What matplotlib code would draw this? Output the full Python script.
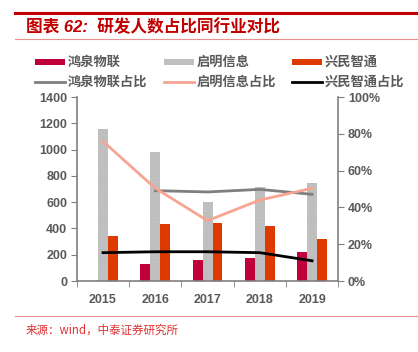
import matplotlib
matplotlib.use("Agg")
import matplotlib.pyplot as plt
import numpy as np
from matplotlib.patches import Rectangle
from matplotlib.lines import Line2D

plt.rcParams['font.family'] = ['Liberation Sans', 'Noto Sans CJK SC', 'DejaVu Sans']
plt.rcParams['hatch.linewidth'] = 0.4

years = ['2015', '2016', '2017', '2018', '2019']
hq_count = [np.nan, 127, 160, 173, 223]      # 鸿泉物联
qm_count = [1155, 985, 600, 715, 745]         # 启明信息
xm_count = [342, 436, 441, 418, 317]          # 兴民智通
hq_pct = [np.nan, 49.1, 48.4, 49.8, 47.1]     # 鸿泉物联占比
qm_pct = [75.9, 50.4, 32.8, 44.0, 50.4]       # 启明信息占比
xm_pct = [15.4, 15.9, 15.9, 15.4, 11.0]       # 兴民智通占比
series_labels = ['鸿泉物联', '启明信息', '兴民智通', '鸿泉物联占比', '启明信息占比', '兴民智通占比']

c_red = '#C0003A'
c_gray = '#C0C0C0'
c_orange = '#DE3A00'
c_gline = '#7F7F7F'
c_salmon = '#F7A592'
c_black = '#000000'
tick_col = '#595959'

W, H = 418, 352
fig = plt.figure(figsize=(W / 100, H / 100), dpi=100)
ax = fig.add_axes([0.184, 0.2017, 0.625, 0.5227])
ax2 = ax.twinx()

x = np.arange(len(years))
w = 0.19
ax.bar(x - w, hq_count, w, color=c_red, zorder=2)
ax.bar(x, qm_count, w, color=c_gray, edgecolor='#B8B8B8', hatch='.....', lw=0, zorder=2)
ax.bar(x + w, xm_count, w, color=c_orange, zorder=2)

ax2.plot(x, hq_pct, color=c_gline, lw=2)
ax2.plot(x, qm_pct, color=c_salmon, lw=2)
ax2.plot(x, xm_pct, color=c_black, lw=2)

ax.set_xlim(-0.5, 4.5)
ax.set_ylim(0, 1400)
ax2.set_ylim(0, 100)
ax.set_yticks(range(0, 1401, 200))
ax2.set_yticks(range(0, 101, 20))
ax2.set_yticklabels([f'{v}%' for v in range(0, 101, 20)])
ax.set_xticks(x)
ax.set_xticklabels(years)
ax.set_xticks(np.arange(-0.5, 4.6, 1), minor=True)
ax.tick_params(axis='x', which='major', length=0, pad=9)
ax.tick_params(axis='x', which='minor', length=4, color='#7F7F7F', direction='out')

for a in (ax, ax2):
    for s in a.spines.values():
        s.set_visible(False)
    a.tick_params(axis='y', length=4, color='#7F7F7F', direction='out', pad=3)
    for lab in a.get_yticklabels() + a.get_xticklabels():
        lab.set_fontweight('bold')
        lab.set_color(tick_col)
        lab.set_fontsize(9)
ax.spines['left'].set_visible(True)
ax.spines['bottom'].set_visible(True)
ax2.spines['right'].set_visible(True)
for s in (ax.spines['left'], ax.spines['bottom'], ax2.spines['right']):
    s.set_color('#7F7F7F')
    s.set_linewidth(1.2)

# manual legend (row-wise, fixed columns)
col_x = [35, 164, 292]
row_y = [62, 82]
styles = [('patch', c_red), ('patch', c_gray), ('patch', c_orange),
          ('line', c_gline), ('line', c_salmon), ('line', c_black)]
for i, (lab, (kind, col)) in enumerate(zip(series_labels, styles)):
    r, c = divmod(i, 3)
    x0 = col_x[c]
    y0 = row_y[r]
    if kind == 'patch':
        fig.add_artist(Rectangle((x0 / W, 1 - (y0 + 3) / H), 30 / W, 6 / H,
                                 transform=fig.transFigure, color=col, lw=0))
    else:
        fig.add_artist(Line2D([x0 / W, (x0 + 30) / W], [1 - y0 / H] * 2, color=col, lw=2))
    fig.text((x0 + 33) / W, 1 - y0 / H, lab, color=tick_col, fontsize=9.5, fontweight='bold',
             va='center', ha='left', family=['Noto Sans CJK SC', 'DejaVu Sans'])

# title decorations
fig.add_artist(Line2D([0.036, 1.0], [1 - 13 / H] * 2, color='#C00000', lw=2.2))
fig.add_artist(Line2D([0.036, 1.0], [1 - 39 / H] * 2, color='#E89090', lw=0.8))
fig.add_artist(Line2D([0.036, 1.0], [1 - 316 / H] * 2, color='#E89090', lw=0.8))
fig.text(26 / W, 1 - 27 / H, '图表 62:  研发人数占比同行业对比', color='#C00000', fontsize=12,
         fontweight='bold', style='italic', va='center', ha='left',
         family=['Liberation Sans', 'Noto Sans CJK SC'])
fig.text(26 / W, 1 - 330 / H, '来源：wind，中泰证券研究所', color='#E03030', fontsize=8.3,
         va='center', ha='left', family=['Noto Sans CJK SC', 'DejaVu Sans'])

fig.savefig('out.png', dpi=100)
